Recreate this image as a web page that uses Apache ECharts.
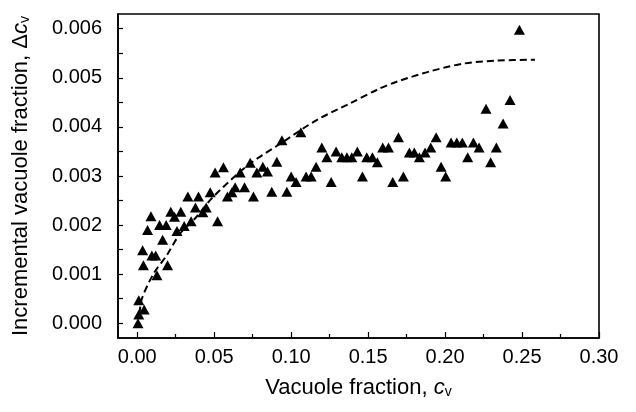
<!DOCTYPE html>
<html>
<head>
<meta charset="utf-8">
<script src="https://cdn.jsdelivr.net/npm/echarts@6/dist/echarts.min.js"></script>
<style>html,body{margin:0;padding:0;background:#fff}#c{width:636px;height:412px}</style>
</head>
<body>
<div id="c"></div>
<script>
// Measured points: vacuole fraction c_v and incremental fraction Δc_v
const cv = [0.0005,0.001,0.0045,0.001,0.0128,0.004,0.0197,0.0035,0.0095,0.012,0.0165,0.0067,0.0089,0.0145,0.0188,0.0218,0.0242,0.0283,0.0258,0.0305,0.035,0.0329,0.0378,0.0398,0.0426,0.0448,0.0474,0.0522,0.0506,0.056,0.0586,0.0615,0.0636,0.0669,0.0697,0.0755,0.0734,0.0777,0.0816,0.0846,0.0874,0.0907,0.094,0.0972,0.100,0.1032,0.1063,0.1097,0.113,0.1162,0.1199,0.1232,0.126,0.1292,0.1329,0.1362,0.1394,0.143,0.1463,0.1491,0.1528,0.156,0.1595,0.1632,0.166,0.1697,0.1729,0.1768,0.18,0.1833,0.187,0.1907,0.1942,0.1974,0.2004,0.2039,0.2076,0.2112,0.2147,0.2184,0.2221,0.2266,0.2296,0.2333,0.2377,0.2422,0.2483];
const dcv = [0.0000,0.00018,0.00028,0.00047,0.00098,0.00118,0.00118,0.00149,0.00138,0.00138,0.0017,0.0019,0.00218,0.0020,0.0020,0.00227,0.00217,0.00227,0.00188,0.00198,0.00208,0.00258,0.00236,0.00258,0.00226,0.00236,0.00267,0.00208,0.00307,0.00318,0.00258,0.00267,0.00277,0.00307,0.00277,0.00258,0.00327,0.00307,0.00319,0.00309,0.00268,0.00329,0.00373,0.00268,0.00299,0.00288,0.00389,0.00299,0.00299,0.00319,0.00358,0.00338,0.00288,0.0035,0.00338,0.00338,0.00338,0.0035,0.00299,0.00338,0.00338,0.00328,0.00358,0.00358,0.00288,0.00379,0.00299,0.00348,0.00348,0.00338,0.00348,0.00358,0.00379,0.00319,0.00299,0.00368,0.00368,0.00368,0.00338,0.00368,0.00358,0.00437,0.00328,0.00358,0.00407,0.00455,0.00598];
// Dashed fitted curve
const fitX = [0.0015,0.003,0.0106,0.0193,0.0279,0.0377,0.0495,0.0720,0.095,0.1166,0.1383,0.1567,0.1686,0.19,0.212,0.2336,0.2584];
const fitY = [0.0002,0.0005,0.00101,0.00139,0.00183,0.00214,0.00258,0.00322,0.0037,0.00414,0.00448,0.00477,0.00492,0.00513,0.00529,0.00535,0.00537];
// Tick labels
const xTicks = [0,0.05,0.10,0.15,0.20,0.25,0.30];
const xMinor = [0.025,0.075,0.125,0.175,0.225,0.275];
const yTicks = [0,0.001,0.002,0.003,0.004,0.005,0.006];
const yMinor = [0.0005,0.0015,0.0025,0.0035,0.0045,0.0055];

const FONT = '"Liberation Sans", Arial, sans-serif';
const chart = echarts.init(document.getElementById('c'), null, {renderer:'canvas'});
const pts = cv.map((x,i)=>[x,dcv[i]]);
const fit = fitX.map((x,i)=>[x,fitY[i]]);
const xBase = {type:'value', min:-0.0125, max:0.30, splitLine:{show:false}};
const yBase = {type:'value', min:-0.0003, max:0.0063, splitLine:{show:false}};
const nameRich = {a:{fontSize:22,fontFamily:FONT,color:'#000'},i:{fontSize:22,fontFamily:FONT,fontStyle:'italic',color:'#000'},s:{fontSize:14,fontFamily:FONT,color:'#000',padding:[9,0,0,0]}};
chart.setOption({
  animation:false,
  grid:{left:118,right:37,top:14,bottom:74,show:true,borderColor:'#000',borderWidth:1.6,backgroundColor:'transparent'},
  xAxis:[
    Object.assign({}, xBase, {
      position:'bottom',
      axisLine:{show:true,onZero:false,lineStyle:{color:'#000',width:1.6}},
      axisTick:{show:true,inside:true,length:6,customValues:xTicks,lineStyle:{color:'#000',width:1.2}},
      axisLabel:{show:true,customValues:xTicks,margin:9,color:'#000',fontSize:20,fontFamily:FONT,formatter:v=>v.toFixed(2)},
      name:'{a|Vacuole fraction, }{i|c}{s|v}',
      nameLocation:'middle',nameGap:38,
      nameTextStyle:{rich:nameRich}
    }),
    Object.assign({}, xBase, {
      position:'bottom',
      axisLine:{show:false,onZero:false},
      axisTick:{show:true,inside:true,length:4,customValues:xMinor,lineStyle:{color:'#000',width:1.2}},
      axisLabel:{show:false}
    })
  ],
  yAxis:[
    Object.assign({}, yBase, {
      position:'left',
      axisLine:{show:true,onZero:false,lineStyle:{color:'#000',width:1.6}},
      axisTick:{show:true,inside:true,length:5,customValues:yTicks,lineStyle:{color:'#000',width:1.2}},
      axisLabel:{show:true,customValues:yTicks,margin:16,color:'#000',fontSize:20,fontFamily:FONT,formatter:v=>v.toFixed(3)},
      name:'{a|Incremental vacuole fraction, Δ}{i|c}{s|v}',
      nameLocation:'middle',nameGap:86,nameRotate:90,
      nameTextStyle:{rich:nameRich}
    }),
    Object.assign({}, yBase, {
      position:'left',
      axisLine:{show:false,onZero:false},
      axisTick:{show:true,inside:true,length:5,customValues:yMinor,lineStyle:{color:'#000',width:1.2}},
      axisLabel:{show:false}
    })
  ],
  series:[
    {type:'line',data:fit,smooth:0.3,showSymbol:false,symbol:'none',lineStyle:{color:'#000',width:2,type:[7,4]},z:2},
    {type:'scatter',data:pts,symbol:'triangle',symbolSize:[11,10],itemStyle:{color:'#000',opacity:1},z:3}
  ]
});
</script>
</body>
</html>
